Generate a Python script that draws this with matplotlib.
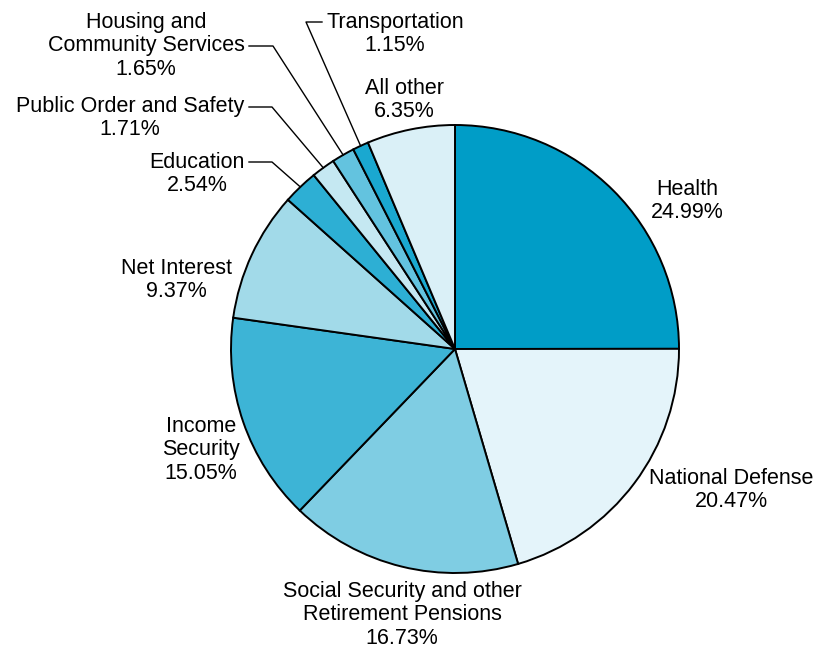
import matplotlib.pyplot as plt
import numpy as np

plt.rcParams['font.family'] = ['Liberation Sans', 'DejaVu Sans']

categories = ['Health', 'National Defense', 'Social Security and other\nRetirement Pensions',
              'Income\nSecurity', 'Net Interest', 'Education', 'Public Order and Safety',
              'Housing and\nCommunity Services', 'Transportation', 'All other']
shares = [24.99, 20.47, 16.73, 15.05, 9.37, 2.54, 1.71, 1.65, 1.15, 6.35]
colors = ['#009DC7', '#E4F4FA', '#7FCDE3', '#3DB4D6', '#A2DAE9',
          '#2DAFD4', '#C5E8F2', '#63C3DF', '#1AA8D0', '#DAF0F7']

W, H = 822, 650
cx, cy, R = 455, H - 349, 224

fig = plt.figure(figsize=(W / 100, H / 100), dpi=100)
ax = fig.add_axes([0, 0, 1, 1])

wedges, _ = ax.pie(shares, colors=colors, startangle=90, counterclock=False,
                   center=(cx, cy), radius=R, normalize=True,
                   wedgeprops=dict(edgecolor='black', linewidth=1.4))
ax.set_xlim(0, W)
ax.set_ylim(0, H)
ax.set_aspect('equal')
ax.axis('off')

# label block centres, in pixels from the top-left corner
label_pos = [(687, 201), (731, 490), (402, 615), (201, 450), (176, 280),
             (197, 174), (130, 118), (146, 46), (395, 34), (404, 100)]

# small slices get a leader: elbow end (x0, x1, y) in pixels
leaders = {5: (249, 272, 162), 6: (249, 272, 107), 7: (249, 273, 46), 8: (322, 306, 22)}

for i, (w, name, val) in enumerate(zip(wedges, categories, shares)):
    x, y = label_pos[i]
    ax.text(x, H - y, f'{name}\n{val:.2f}%', ha='center', va='center',
            multialignment='center', fontsize=15.5, linespacing=1.18)
    if i in leaders:
        x0, x1, ly = leaders[i]
        mid = np.deg2rad((w.theta1 + w.theta2) / 2)
        ex, ey = cx + R * np.cos(mid), cy + R * np.sin(mid)
        ax.plot([x0, x1, ex], [H - ly, H - ly, ey], color='black', linewidth=1.0)

fig.savefig('out.png', dpi=100)
